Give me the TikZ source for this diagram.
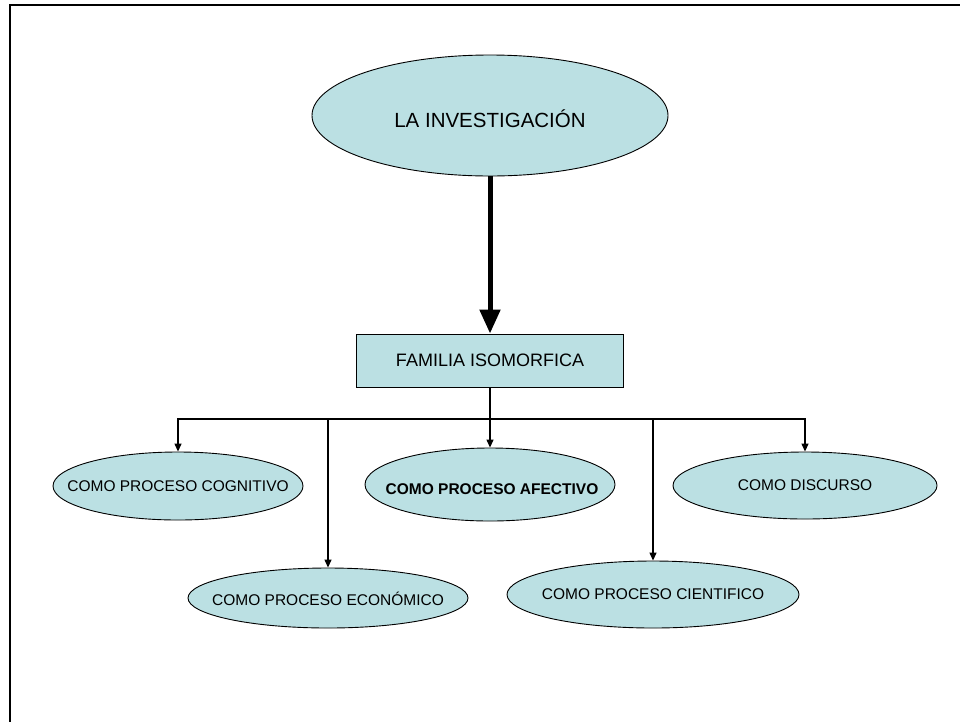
\documentclass[tikz,border=0pt]{standalone}
\usepackage{fontspec}
\setmainfont{Liberation Sans}
\usetikzlibrary{shapes.geometric,arrows.meta}
\definecolor{fillc}{RGB}{187,224,227}
\begin{document}
\begin{tikzpicture}[x=1pt,y=-1pt,
  ell/.style={ellipse, draw=black, line width=0.9pt, fill=fillc, inner sep=0pt},
  lbl/.style={font=\fontsize{15.5}{18}\selectfont, inner sep=0pt},
  famb/.style={rectangle, draw=black, line width=0.9pt, fill=fillc, inner sep=0pt,
    font=\fontsize{18}{21}\selectfont},
  thinarr/.style={draw=black, line width=1.3pt, -{Triangle[length=8pt,width=7pt]}},
  thickarr/.style={draw=black, line width=5pt, -{Triangle[length=24pt,width=20pt]}}]
\useasboundingbox (0,0) rectangle (960,721);
\fill[white] (0,0) rectangle (960,721);
\draw[line width=2.5pt] (10,722) -- (10,5) -- (961,5);

\node[ell, minimum width=356pt, minimum height=121pt,
  label={[lbl, font=\fontsize{20.5}{24}\selectfont, yshift=-3pt]center:LA INVESTIGACIÓN}] (inv) at (490,115.5) {};
\node[famb, minimum width=267pt, minimum height=53pt] (fam) at (490,360.5) {FAMILIA ISOMORFICA};

\node[ell, minimum width=250pt, minimum height=68pt,
  label={[lbl]center:COMO PROCESO COGNITIVO}] (cog) at (178,486) {};
\node[ell, minimum width=250pt, minimum height=73pt,
  label={[lbl, font=\fontsize{15.5}{18}\selectfont\bfseries, xshift=2pt, yshift=-5pt]center:COMO PROCESO AFECTIVO}] (afe) at (490,484.5) {};
\node[ell, minimum width=264pt, minimum height=67pt,
  label={[lbl]center:COMO DISCURSO}] (dis) at (805,485.5) {};
\node[ell, minimum width=280pt, minimum height=60pt,
  label={[lbl, yshift=-1pt]center:COMO PROCESO ECONÓMICO}] (eco) at (328,598) {};
\node[ell, minimum width=292pt, minimum height=67pt,
  label={[lbl]center:COMO PROCESO CIENTIFICO}] (cie) at (653,594.5) {};

\coordinate (bus) at (490,419);

\draw[thickarr] (inv.south) -- (fam.north);
\draw[thinarr] (fam.south) -- (bus) -| (cog.north);
\draw[thinarr] (fam.south) -- (bus) -| (eco.north);
\draw[thinarr] (fam.south) -- (afe.north);
\draw[thinarr] (fam.south) -- (bus) -| (cie.north);
\draw[thinarr] (fam.south) -- (bus) -| (dis.north);
\end{tikzpicture}
\end{document}
